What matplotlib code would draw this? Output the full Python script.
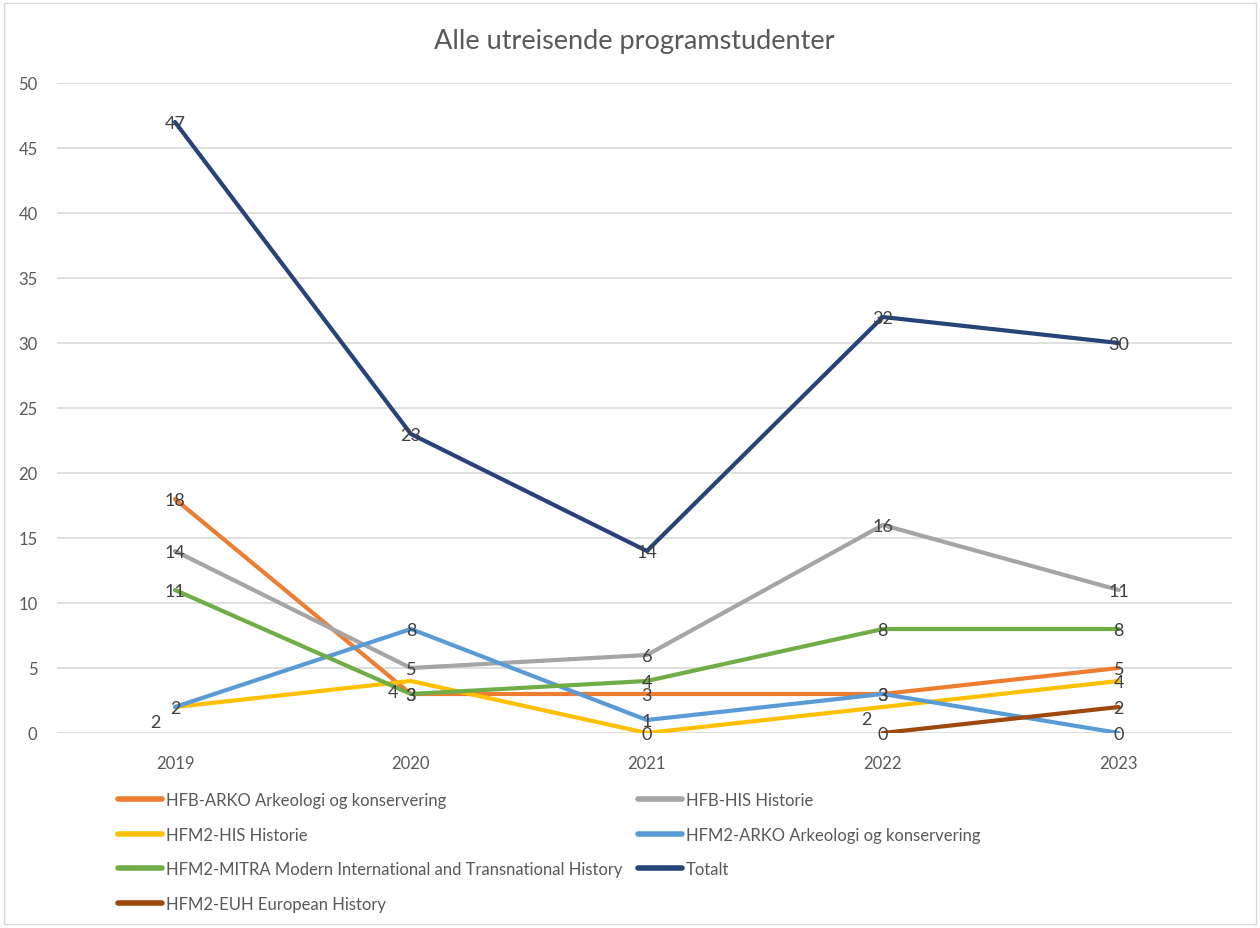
import matplotlib
matplotlib.use("Agg")
import matplotlib.pyplot as plt
from matplotlib.lines import Line2D
from matplotlib.patches import Rectangle

plt.rcParams['font.family'] = ['Lato', 'DejaVu Sans']

years = ["2019", "2020", "2021", "2022", "2023"]
title = "Alle utreisende programstudenter"

names = [
    "HFB-ARKO Arkeologi og konservering",
    "HFB-HIS Historie",
    "HFM2-HIS Historie",
    "HFM2-ARKO Arkeologi og konservering",
    "HFM2-MITRA Modern International and Transnational History",
    "Totalt",
    "HFM2-EUH European History",
]
hfb_arko = [18, 3, 3, 3, 5]
hfb_his = [14, 5, 6, 16, 11]
hfm2_his = [2, 4, 0, 2, 4]
hfm2_arko = [2, 8, 1, 3, 0]
hfm2_mitra = [11, 3, 4, 8, 8]
totalt = [47, 23, 14, 32, 30]
hfm2_euh = [None, None, None, 0, 2]

series = [hfb_arko, hfb_his, hfm2_his, hfm2_arko, hfm2_mitra, totalt, hfm2_euh]
colors = ["#ED7D31", "#A5A5A5", "#FFC000", "#5B9BD5", "#70AD47", "#264478", "#9E480E"]

# label offsets in points (only yellow series was moved in the original)
label_offsets = {2: [(-14, -11), (-13, -8), (0, -1), (-12, -9), (0, -1)]}

W, H = 1260, 929
fig = plt.figure(figsize=(W / 100, H / 100), dpi=100)
fig.add_artist(Rectangle((4 / W, 4 / H), (W - 8) / W, (H - 8) / H,
                         transform=fig.transFigure, fill=False,
                         edgecolor="#D9D9D9", lw=1))

ax = fig.add_axes([57 / W, 1 - 734 / H, (1232 - 57) / W, (734 - 84) / H])
x = list(range(len(years)))

for i, (vals, c) in enumerate(zip(series, colors)):
    xs = [xi for xi, v in zip(x, vals) if v is not None]
    ys = [v for v in vals if v is not None]
    ax.plot(xs, ys, color=c, lw=3, solid_capstyle='round', zorder=3 + i * 0.1)
    offs = label_offsets.get(i)
    for k, (xi, v) in enumerate(zip(x, vals)):
        if v is None:
            continue
        dx, dy = offs[k] if offs else (0, -1)
        ax.annotate(str(v), (xi, v), xytext=(dx, dy), textcoords='offset points',
                    ha='center', va='center', fontsize=13, color="#404040",
                    zorder=10)

ax.set_xlim(-0.5, 4.48)
ax.set_ylim(0, 50)
ax.set_yticks(range(0, 51, 5))
ax.set_xticks(x)
ax.set_xticklabels(years)
ax.tick_params(length=0, labelsize=12, colors="#595959")
ax.tick_params(axis='y', pad=14)
ax.tick_params(axis='x', pad=16)
ax.grid(axis='y', color="#D9D9D9", lw=1.2, zorder=0)
ax.set_axisbelow(True)
for s in ax.spines.values():
    s.set_visible(False)

fig.text(634 / W, 1 - 42 / H, title, ha='center', va='center',
         fontsize=19.5, color="#595959")

handles = [Line2D([], [], color=c, lw=4, solid_capstyle='round') for c in colors]
col1 = [0, 2, 4, 6]
col2 = [1, 3, 5]
for idx, xpx in ((col1, 118), (col2, 638)):
    fig.legend([handles[j] for j in idx], [names[j] for j in idx],
               loc='upper left', bbox_to_anchor=(xpx / W, 1 - 793 / H),
               frameon=False, fontsize=12, labelcolor="#595959",
               handlelength=2.65, handletextpad=0.2, labelspacing=1.12,
               borderpad=0, borderaxespad=0)

fig.savefig("out.png", dpi=100, facecolor="white")
